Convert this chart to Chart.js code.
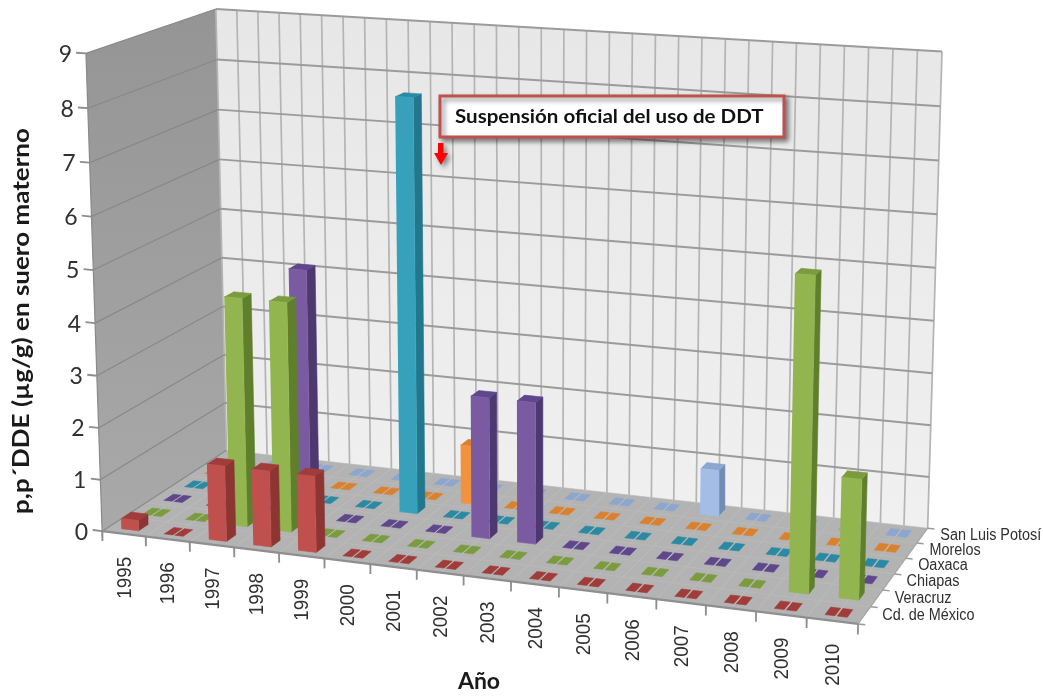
<!DOCTYPE html>
<html>
<head>
<meta charset="utf-8">
<title>p,p'DDE en suero materno</title>
<script src="https://cdn.jsdelivr.net/npm/chart.js@4"></script>
<style>
  html, body { margin: 0; padding: 0; background: #fff; }
  canvas { display: block; }
</style>
</head>
<body>
<canvas id="ddeChart" width="1043" height="698"></canvas>
<script>
const years = ['1995','1996','1997','1998','1999','2000','2001','2002','2003','2004','2005','2006','2007','2008','2009','2010'];
const states = ['Cd. de México','Veracruz','Chiapas','Oaxaca','Morelos','San Luis Potosí'];
const valueTicks = [0,1,2,3,4,5,6,7,8,9];

const cdMexico = [0.2,0,1.45,1.45,1.45,0,0,0,0,0,0,0,0,0,0,0];
const veracruz = [0,0,4.4,4.4,0,0,0,0,0,0,0,0,0,0,5.75,2.2];
const chiapas  = [0,0,0,4.8,0,0,0,2.7,2.7,0,0,0,0,0,0,0];
const oaxaca   = [0,0,0,0,0,8.0,0,0,0,0,0,0,0,0,0,0];
const morelos  = [0,0,0,0,0,0,1.15,0,0,0,0,0,0,0,0,0];
const slp      = [0,0,0,0,0,0,0,0,0,0,0,0.9,0,0,0,0];
const seriesValues = [cdMexico, veracruz, chiapas, oaxaca, morelos, slp];

// [front, side, top] for each state
const palette = [
  ['#c0504d', '#8c3533', '#a03c3a'],
  ['#93b550', '#5f7f2c', '#7b9c3e'],
  ['#7a5ba1', '#4e3870', '#5f478c'],
  ['#37a1bc', '#22778d', '#2b8aa3'],
  ['#f2923f', '#b86c24', '#da8130'],
  ['#a3bde6', '#6f8cb3', '#8ca6cf']
];

// 3D box corners (year slot, state slot, value) and where they land on the page
const anchors = [
  [0, 0, 0, 103, 530], [16, 0, 0, 858, 624], [16, 6, 0, 928, 527], [0, 6, 0, 226, 451],
  [0, 0, 9, 86, 53], [0, 6, 9, 216, 9], [16, 6, 9, 942, 52],
  [8, 0, 0, 463, 577], [0, 0, 5, 93, 270]
];

function solveCamera(pts) {
  const n = 11;
  const N = Array.from({length: n}, () => new Array(n + 1).fill(0));
  const addRow = (row, b) => {
    for (let i = 0; i < n; i++) {
      for (let j = 0; j < n; j++) N[i][j] += row[i] * row[j];
      N[i][n] += row[i] * b;
    }
  };
  pts.forEach(([u, v, w, px, py]) => {
    addRow([u, v, w, 1, 0, 0, 0, 0, -px * u, -px * v, -px * w], px);
    addRow([0, 0, 0, 0, u, v, w, 1, -py * u, -py * v, -py * w], py);
  });
  for (let c = 0; c < n; c++) {
    let best = c;
    for (let r = c + 1; r < n; r++) if (Math.abs(N[r][c]) > Math.abs(N[best][c])) best = r;
    [N[c], N[best]] = [N[best], N[c]];
    for (let r = 0; r < n; r++) {
      if (r === c) continue;
      const f = N[r][c] / N[c][c];
      for (let k = c; k <= n; k++) N[r][k] -= f * N[c][k];
    }
  }
  return N.map((row, i) => row[n] / row[i]);
}

const cam = solveCamera(anchors);

function project(u, v, w) {
  const d = cam[8] * u + cam[9] * v + cam[10] * w + 1;
  return {
    x: (cam[0] * u + cam[1] * v + cam[2] * w + cam[3]) / d,
    y: (cam[4] * u + cam[5] * v + cam[6] * w + cam[7]) / d
  };
}

const canvas = document.getElementById('ddeChart');
const ctx = canvas.getContext('2d');

const backWallFill = ctx.createLinearGradient(0, 10, 0, 520);
backWallFill.addColorStop(0, '#e7e7e7');
backWallFill.addColorStop(1, '#f0f0f0');
const leftWallFill = ctx.createLinearGradient(0, 20, 0, 530);
leftWallFill.addColorStop(0, '#959595');
leftWallFill.addColorStop(1, '#a9a9a9');

const layers = [];

function face(corners, color) {
  layers.push({
    data: corners.map(c => project(c[0], c[1], c[2])),
    showLine: true,
    fill: 'shape',
    backgroundColor: color,
    borderColor: typeof color === 'string' ? color : 'transparent',
    borderWidth: typeof color === 'string' ? 0.6 : 0,
    pointRadius: 0,
    tension: 0
  });
}

function segment(a, b, color, width) {
  layers.push({
    data: [project(a[0], a[1], a[2]), project(b[0], b[1], b[2])],
    showLine: true,
    fill: false,
    borderColor: color,
    borderWidth: width,
    pointRadius: 0,
    tension: 0
  });
}

// walls and floor
face([[0,0,0],[0,6,0],[0,6,9],[0,0,9]], leftWallFill);
face([[0,6,0],[16,6,0],[16,6,9],[0,6,9]], backWallFill);
face([[0,0,0],[16,0,0],[16,6,0],[0,6,0]], '#b3b3b3');

// faint floor lines, half a slot apart
for (let i = 1; i < 32; i++) segment([i / 2, 0, 0], [i / 2, 6, 0], '#bcbcbc', 1);
for (let i = 1; i < 6; i++) segment([0, i, 0], [16, i, 0], '#b9b9b9', 1);

// wall grid
for (let i = 0; i <= 32; i++) segment([i / 2, 6, 0], [i / 2, 6, 9], '#b4b4b4', 1.7);
valueTicks.forEach(t => {
  if (t > 0) segment([0, 6, t], [16, 6, t], '#9b9b9b', 2);
  segment([0, 0, t], [0, 6, t], '#888888', 1.2);
});

// axes and tick marks
segment([0, 0, 0], [16, 0, 0], '#8f8f8f', 2.2);
segment([0, 0, 0], [0, 0, 9], '#8a8a8a', 1.2);
segment([16, 0, 0], [16, 6, 0], '#a6a6a6', 1.2);
for (let i = 0; i <= 16; i++) segment([i, 0, 0], [i, 0, -0.19], '#8d8d8d', 1.8);
for (let i = 0; i <= 6; i++) segment([16, i, 0], [16.14, i, 0], '#9a9a9a', 1.5);
valueTicks.forEach(t => segment([0, 0, t], [-0.22, 0, t], '#8d8d8d', 1.8));

// columns, back row first, so nearer ones cover them
const halfU = 0.2, halfV = 0.22, tileU = 0.22;
for (let s = states.length - 1; s >= 0; s--) {
  years.forEach((y, i) => {
    const value = seriesValues[s][i];
    const cu = i + 0.5, cv = s + 0.5;
    const [front, side, top] = palette[s];
    const v0 = cv - halfV, v1 = cv + halfV;
    if (value === 0) {
      // an empty year still leaves a flat split tile on the floor
      face([[cu - tileU,v0,0],[cu - 0.02,v0,0],[cu - 0.02,v1,0],[cu - tileU,v1,0]], top);
      face([[cu + 0.02,v0,0],[cu + tileU,v0,0],[cu + tileU,v1,0],[cu + 0.02,v1,0]], top);
      return;
    }
    const u0 = cu - halfU, u1 = cu + halfU;
    face([[u1,v0,0],[u1,v1,0],[u1,v1,value],[u1,v0,value]], side);
    face([[u0,v0,value],[u1,v0,value],[u1,v1,value],[u0,v1,value]], top);
    face([[u0,v0,0],[u1,v0,0],[u1,v0,value],[u0,v0,value]], front);
  });
}

const chartLabels = {
  id: 'chartLabels',
  afterDraw(chart) {
    const c = chart.ctx;
    const sx = chart.scales.x, sy = chart.scales.y;
    const at = p => ({x: sx.getPixelForValue(p.x), y: sy.getPixelForValue(p.y)});

    c.save();
    c.fillStyle = '#303030';
    c.textBaseline = 'middle';

    // value axis
    c.font = '23px Lato';
    c.textAlign = 'right';
    valueTicks.forEach(t => {
      const p = at(project(0, 0, t));
      c.fillText(String(t), p.x - 14, p.y + 1);
    });

    // years, rotated, squeezed along their length
    c.font = '21px "Liberation Sans"';
    years.forEach((y, i) => {
      const p = at(project(i + 0.5, 0, 0));
      c.save();
      c.translate(p.x + 1, p.y + 23);
      c.rotate(-Math.PI / 2);
      c.scale(0.9, 1);
      c.textAlign = 'right';
      c.fillText(y, 0, 0);
      c.restore();
    });

    // state names beside the floor edge
    c.font = '16px "Liberation Sans"';
    c.textAlign = 'left';
    states.forEach((name, i) => {
      const p = at(project(16, i + 0.5, 0));
      c.save();
      c.translate(p.x + 18, p.y);
      c.scale(0.9, 1);
      c.fillText(name, 0, 0);
      c.restore();
    });

    // axis titles
    c.fillStyle = '#1a1a1a';
    c.font = 'bold 23px Lato';
    c.textAlign = 'center';
    c.fillText('Año', 479, 682);
    c.save();
    c.translate(22, 321);
    c.rotate(-Math.PI / 2);
    c.scale(1.13, 1);
    c.fillText('p,p´DDE (µg/g) en suero materno', 0, 0);
    c.restore();

    // note box with its arrow
    c.save();
    c.shadowColor = 'rgba(0,0,0,0.45)';
    c.shadowBlur = 5;
    c.shadowOffsetX = 3;
    c.shadowOffsetY = 3;
    c.fillStyle = '#fff';
    c.strokeStyle = '#c0504d';
    c.lineWidth = 3;
    c.beginPath();
    c.rect(440, 96, 344, 41);
    c.fill();
    c.stroke();
    c.fillStyle = '#ff0000';
    c.beginPath();
    c.moveTo(438, 143);
    c.lineTo(443.5, 143);
    c.lineTo(443.5, 153);
    c.lineTo(448, 153);
    c.lineTo(441, 165);
    c.lineTo(434, 153);
    c.lineTo(438, 153);
    c.closePath();
    c.fill();
    c.restore();

    c.save();
    c.fillStyle = '#111';
    c.font = 'bold 19px Lato';
    c.textAlign = 'left';
    c.translate(455, 117);
    c.scale(1.08, 1);
    c.fillText('Suspensión oficial del uso de DDT', 0, 0);
    c.restore();
    c.restore();
  }
};

new Chart(ctx, {
  type: 'scatter',
  data: { datasets: layers.reverse() }, // first dataset is painted last
  options: {
    responsive: false,
    animation: false,
    layout: { padding: 0 },
    scales: {
      x: { type: 'linear', min: 0, max: 1043, display: false },
      y: { type: 'linear', min: 0, max: 698, reverse: true, display: false }
    },
    plugins: {
      legend: { display: false },
      tooltip: { enabled: false }
    }
  },
  plugins: [chartLabels]
});
</script>
</body>
</html>
